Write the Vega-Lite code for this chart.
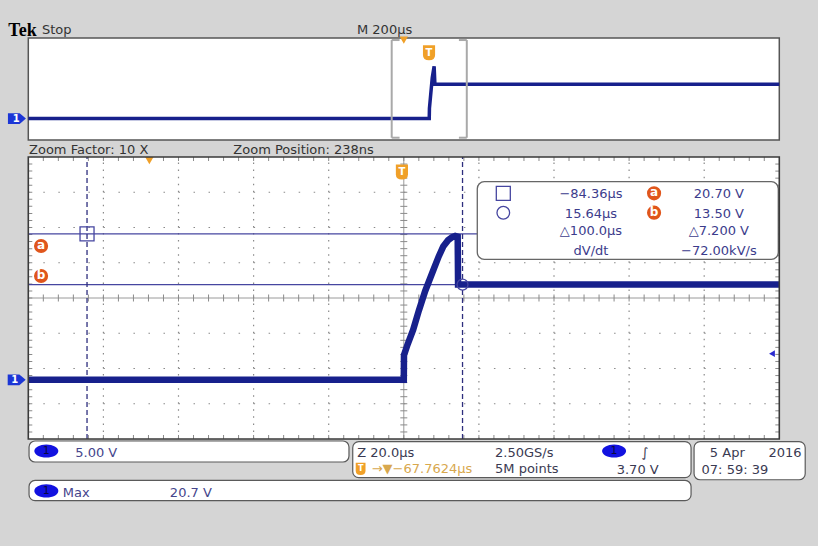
{
"$schema": "https://vega.github.io/schema/vega-lite/v6.json",
"width": 818, "height": 546,
"autosize": {"type": "fit", "contains": "padding"},
"padding": 0,
"background": "#d5d5d5",
"config": {"view": {"stroke": null}, "text": {"font": "DejaVu Sans", "fontSize": 13}},
"datasets": {
 "main": [{"t":-100,"v":0},{"t":0,"v":0},{"t":0.05,"v":3.5},{"t":1,"v":5},{"t":2.5,"v":7.1},{"t":4,"v":9.8},{"t":5.7,"v":12.6},{"t":7.9,"v":15.6},{"t":9.3,"v":17.5},{"t":10.5,"v":18.9},{"t":11.8,"v":19.8},{"t":12.8,"v":20.2},{"t":13.7,"v":20.4},{"t":14.35,"v":20.3},{"t":14.45,"v":13.5},{"t":100,"v":13.5}],
 "ov": [{"t":-1067.76,"v":0},{"t":0,"v":0},{"t":0.5,"v":4},{"t":8,"v":16},{"t":13,"v":20.5},{"t":15,"v":13.5},{"t":932.24,"v":13.5}],
 "tkH": [
  {"t":-96,"v":11.6,"z":7},{"t":-92,"v":11.6,"z":7},{"t":-88,"v":11.6,"z":7},{"t":-84,"v":11.6,"z":7},{"t":-80,"v":11.6,"z":7},{"t":-76,"v":11.6,"z":7},{"t":-72,"v":11.6,"z":7},{"t":-68,"v":11.6,"z":7},{"t":-64,"v":11.6,"z":7},{"t":-60,"v":11.6,"z":7},{"t":-56,"v":11.6,"z":7},{"t":-52,"v":11.6,"z":7},{"t":-48,"v":11.6,"z":7},{"t":-44,"v":11.6,"z":7},{"t":-40,"v":11.6,"z":7},{"t":-36,"v":11.6,"z":7},{"t":-32,"v":11.6,"z":7},{"t":-28,"v":11.6,"z":7},{"t":-24,"v":11.6,"z":7},{"t":-20,"v":11.6,"z":7},{"t":-16,"v":11.6,"z":7},{"t":-12,"v":11.6,"z":7},{"t":-8,"v":11.6,"z":7},{"t":-4,"v":11.6,"z":7},{"t":4,"v":11.6,"z":7},{"t":8,"v":11.6,"z":7},{"t":12,"v":11.6,"z":7},{"t":16,"v":11.6,"z":7},{"t":20,"v":11.6,"z":7},{"t":24,"v":11.6,"z":7},{"t":28,"v":11.6,"z":7},{"t":32,"v":11.6,"z":7},{"t":36,"v":11.6,"z":7},{"t":40,"v":11.6,"z":7},{"t":44,"v":11.6,"z":7},{"t":48,"v":11.6,"z":7},{"t":52,"v":11.6,"z":7},{"t":56,"v":11.6,"z":7},{"t":60,"v":11.6,"z":7},{"t":64,"v":11.6,"z":7},{"t":68,"v":11.6,"z":7},{"t":72,"v":11.6,"z":7},{"t":76,"v":11.6,"z":7},{"t":80,"v":11.6,"z":7},{"t":84,"v":11.6,"z":7},{"t":88,"v":11.6,"z":7},{"t":92,"v":11.6,"z":7},{"t":96,"v":11.6,"z":7},
  {"t":-96,"v":-8.12,"z":4},{"t":-92,"v":-8.12,"z":4},{"t":-88,"v":-8.12,"z":4},{"t":-84,"v":-8.12,"z":4},{"t":-80,"v":-8.12,"z":4},{"t":-76,"v":-8.12,"z":4},{"t":-72,"v":-8.12,"z":4},{"t":-68,"v":-8.12,"z":4},{"t":-64,"v":-8.12,"z":4},{"t":-60,"v":-8.12,"z":4},{"t":-56,"v":-8.12,"z":4},{"t":-52,"v":-8.12,"z":4},{"t":-48,"v":-8.12,"z":4},{"t":-44,"v":-8.12,"z":4},{"t":-40,"v":-8.12,"z":4},{"t":-36,"v":-8.12,"z":4},{"t":-32,"v":-8.12,"z":4},{"t":-28,"v":-8.12,"z":4},{"t":-24,"v":-8.12,"z":4},{"t":-20,"v":-8.12,"z":4},{"t":-16,"v":-8.12,"z":4},{"t":-12,"v":-8.12,"z":4},{"t":-8,"v":-8.12,"z":4},{"t":-4,"v":-8.12,"z":4},{"t":0,"v":-8.12,"z":4},{"t":4,"v":-8.12,"z":4},{"t":8,"v":-8.12,"z":4},{"t":12,"v":-8.12,"z":4},{"t":16,"v":-8.12,"z":4},{"t":20,"v":-8.12,"z":4},{"t":24,"v":-8.12,"z":4},{"t":28,"v":-8.12,"z":4},{"t":32,"v":-8.12,"z":4},{"t":36,"v":-8.12,"z":4},{"t":40,"v":-8.12,"z":4},{"t":44,"v":-8.12,"z":4},{"t":48,"v":-8.12,"z":4},{"t":52,"v":-8.12,"z":4},{"t":56,"v":-8.12,"z":4},{"t":60,"v":-8.12,"z":4},{"t":64,"v":-8.12,"z":4},{"t":68,"v":-8.12,"z":4},{"t":72,"v":-8.12,"z":4},{"t":76,"v":-8.12,"z":4},{"t":80,"v":-8.12,"z":4},{"t":84,"v":-8.12,"z":4},{"t":88,"v":-8.12,"z":4},{"t":92,"v":-8.12,"z":4},{"t":96,"v":-8.12,"z":4},
  {"t":-96,"v":31.32,"z":4},{"t":-92,"v":31.32,"z":4},{"t":-88,"v":31.32,"z":4},{"t":-84,"v":31.32,"z":4},{"t":-80,"v":31.32,"z":4},{"t":-76,"v":31.32,"z":4},{"t":-72,"v":31.32,"z":4},{"t":-68,"v":31.32,"z":4},{"t":-64,"v":31.32,"z":4},{"t":-60,"v":31.32,"z":4},{"t":-56,"v":31.32,"z":4},{"t":-52,"v":31.32,"z":4},{"t":-48,"v":31.32,"z":4},{"t":-44,"v":31.32,"z":4},{"t":-40,"v":31.32,"z":4},{"t":-36,"v":31.32,"z":4},{"t":-32,"v":31.32,"z":4},{"t":-28,"v":31.32,"z":4},{"t":-24,"v":31.32,"z":4},{"t":-20,"v":31.32,"z":4},{"t":-16,"v":31.32,"z":4},{"t":-12,"v":31.32,"z":4},{"t":-8,"v":31.32,"z":4},{"t":-4,"v":31.32,"z":4},{"t":0,"v":31.32,"z":4},{"t":4,"v":31.32,"z":4},{"t":8,"v":31.32,"z":4},{"t":12,"v":31.32,"z":4},{"t":16,"v":31.32,"z":4},{"t":20,"v":31.32,"z":4},{"t":24,"v":31.32,"z":4},{"t":28,"v":31.32,"z":4},{"t":32,"v":31.32,"z":4},{"t":36,"v":31.32,"z":4},{"t":40,"v":31.32,"z":4},{"t":44,"v":31.32,"z":4},{"t":48,"v":31.32,"z":4},{"t":52,"v":31.32,"z":4},{"t":56,"v":31.32,"z":4},{"t":60,"v":31.32,"z":4},{"t":64,"v":31.32,"z":4},{"t":68,"v":31.32,"z":4},{"t":72,"v":31.32,"z":4},{"t":76,"v":31.32,"z":4},{"t":80,"v":31.32,"z":4},{"t":84,"v":31.32,"z":4},{"t":88,"v":31.32,"z":4},{"t":92,"v":31.32,"z":4},{"t":96,"v":31.32,"z":4}
 ],
 "tkV": [
  {"t":0,"v":-7.4,"z":7},{"t":0,"v":-6.4,"z":7},{"t":0,"v":-5.4,"z":7},{"t":0,"v":-4.4,"z":7},{"t":0,"v":-3.4,"z":7},{"t":0,"v":-2.4,"z":7},{"t":0,"v":-1.4,"z":7},{"t":0,"v":-0.4,"z":7},{"t":0,"v":0.6,"z":7},{"t":0,"v":1.6,"z":7},{"t":0,"v":2.6,"z":7},{"t":0,"v":3.6,"z":7},{"t":0,"v":4.6,"z":7},{"t":0,"v":5.6,"z":7},{"t":0,"v":6.6,"z":7},{"t":0,"v":7.6,"z":7},{"t":0,"v":8.6,"z":7},{"t":0,"v":9.6,"z":7},{"t":0,"v":10.6,"z":7},{"t":0,"v":12.6,"z":7},{"t":0,"v":13.6,"z":7},{"t":0,"v":14.6,"z":7},{"t":0,"v":15.6,"z":7},{"t":0,"v":16.6,"z":7},{"t":0,"v":17.6,"z":7},{"t":0,"v":18.6,"z":7},{"t":0,"v":19.6,"z":7},{"t":0,"v":20.6,"z":7},{"t":0,"v":21.6,"z":7},{"t":0,"v":22.6,"z":7},{"t":0,"v":23.6,"z":7},{"t":0,"v":24.6,"z":7},{"t":0,"v":25.6,"z":7},{"t":0,"v":26.6,"z":7},{"t":0,"v":27.6,"z":7},{"t":0,"v":28.6,"z":7},{"t":0,"v":29.6,"z":7},{"t":0,"v":30.6,"z":7},
  {"t":-99.47,"v":-7.4,"z":4},{"t":-99.47,"v":-6.4,"z":4},{"t":-99.47,"v":-5.4,"z":4},{"t":-99.47,"v":-4.4,"z":4},{"t":-99.47,"v":-3.4,"z":4},{"t":-99.47,"v":-2.4,"z":4},{"t":-99.47,"v":-1.4,"z":4},{"t":-99.47,"v":-0.4,"z":4},{"t":-99.47,"v":0.6,"z":4},{"t":-99.47,"v":1.6,"z":4},{"t":-99.47,"v":2.6,"z":4},{"t":-99.47,"v":3.6,"z":4},{"t":-99.47,"v":4.6,"z":4},{"t":-99.47,"v":5.6,"z":4},{"t":-99.47,"v":6.6,"z":4},{"t":-99.47,"v":7.6,"z":4},{"t":-99.47,"v":8.6,"z":4},{"t":-99.47,"v":9.6,"z":4},{"t":-99.47,"v":10.6,"z":4},{"t":-99.47,"v":11.6,"z":4},{"t":-99.47,"v":12.6,"z":4},{"t":-99.47,"v":13.6,"z":4},{"t":-99.47,"v":14.6,"z":4},{"t":-99.47,"v":15.6,"z":4},{"t":-99.47,"v":16.6,"z":4},{"t":-99.47,"v":17.6,"z":4},{"t":-99.47,"v":18.6,"z":4},{"t":-99.47,"v":19.6,"z":4},{"t":-99.47,"v":20.6,"z":4},{"t":-99.47,"v":21.6,"z":4},{"t":-99.47,"v":22.6,"z":4},{"t":-99.47,"v":23.6,"z":4},{"t":-99.47,"v":24.6,"z":4},{"t":-99.47,"v":25.6,"z":4},{"t":-99.47,"v":26.6,"z":4},{"t":-99.47,"v":27.6,"z":4},{"t":-99.47,"v":28.6,"z":4},{"t":-99.47,"v":29.6,"z":4},{"t":-99.47,"v":30.6,"z":4},
  {"t":99.47,"v":-7.4,"z":4},{"t":99.47,"v":-6.4,"z":4},{"t":99.47,"v":-5.4,"z":4},{"t":99.47,"v":-4.4,"z":4},{"t":99.47,"v":-3.4,"z":4},{"t":99.47,"v":-2.4,"z":4},{"t":99.47,"v":-1.4,"z":4},{"t":99.47,"v":-0.4,"z":4},{"t":99.47,"v":0.6,"z":4},{"t":99.47,"v":1.6,"z":4},{"t":99.47,"v":2.6,"z":4},{"t":99.47,"v":3.6,"z":4},{"t":99.47,"v":4.6,"z":4},{"t":99.47,"v":5.6,"z":4},{"t":99.47,"v":6.6,"z":4},{"t":99.47,"v":7.6,"z":4},{"t":99.47,"v":8.6,"z":4},{"t":99.47,"v":9.6,"z":4},{"t":99.47,"v":10.6,"z":4},{"t":99.47,"v":11.6,"z":4},{"t":99.47,"v":12.6,"z":4},{"t":99.47,"v":13.6,"z":4},{"t":99.47,"v":14.6,"z":4},{"t":99.47,"v":15.6,"z":4},{"t":99.47,"v":16.6,"z":4},{"t":99.47,"v":17.6,"z":4},{"t":99.47,"v":18.6,"z":4},{"t":99.47,"v":19.6,"z":4},{"t":99.47,"v":20.6,"z":4},{"t":99.47,"v":21.6,"z":4},{"t":99.47,"v":22.6,"z":4},{"t":99.47,"v":23.6,"z":4},{"t":99.47,"v":24.6,"z":4},{"t":99.47,"v":25.6,"z":4},{"t":99.47,"v":26.6,"z":4},{"t":99.47,"v":27.6,"z":4},{"t":99.47,"v":28.6,"z":4},{"t":99.47,"v":29.6,"z":4},{"t":99.47,"v":30.6,"z":4}
 ]
},
"resolve": {"scale": {"x": "independent", "y": "independent"}},
"layer": [
 {
  "encoding": {
   "x": {"field": "t", "type": "quantitative", "scale": {"domain": [-1143.13, 1035.30], "nice": false, "zero": false}, "axis": null},
   "y": {"field": "v", "type": "quantitative", "scale": {"domain": [-167.6, 46.5], "nice": false, "zero": false}, "axis": null}
  },
  "layer": [
   {"data": {"values": [{"t": -1067.76, "t2": 932.24, "v": -8.4, "v2": 31.6}]},
    "mark": {"type": "rect", "fill": "#ffffff", "stroke": "#555555", "strokeWidth": 1.5},
    "encoding": {"x2": {"field": "t2"}, "y2": {"field": "v2"}}},
   {"data": {"name": "ov"}, "mark": {"type": "line", "color": "#17208c", "strokeWidth": 3.5}},
   {"data": {"values": [{"t":-100,"t2":-100,"v":-7.5,"v2":30.8},{"t":100,"t2":100,"v":-7.5,"v2":30.8},{"t":-100,"t2":-79,"v":30.8,"v2":30.8},{"t":-100,"t2":-79,"v":-7.5,"v2":-7.5},{"t":79,"t2":100,"v":30.8,"v2":30.8},{"t":79,"t2":100,"v":-7.5,"v2":-7.5}]},
    "mark": {"type": "rule", "color": "#a9a9a9", "strokeWidth": 2},
    "encoding": {"x2": {"field": "t2"}, "y2": {"field": "v2"}}},
   {"data": {"values": [{"t": -0.6, "v": 25.8}]},
    "mark": {"type": "point", "shape": "M-0.8,-1L0.8,-1L0.8,0.3Q0.8,1,0,1Q-0.8,1,-0.8,0.3Z", "filled": true, "color": "#f0a028", "opacity": 1, "size": 230}},
   {"data": {"values": [{"t": -0.6, "v": 25.8, "l": "T"}]},
    "mark": {"type": "text", "color": "#ffffff", "fontWeight": "bold", "fontSize": 10, "baseline": "middle", "align": "center"},
    "encoding": {"text": {"field": "l"}}},
   {"data": {"values": [{"t": -67.76, "v": 30.8}]},
    "mark": {"type": "point", "shape": "triangle-down", "filled": true, "color": "#f0a028", "opacity": 1, "size": 70}},
   {"data": {"values": [{"t": -1098, "v": 0}]},
    "mark": {"type": "point", "shape": "M-1,-0.6L0.3,-0.6L1,0L0.3,0.6L-1,0.6Z", "filled": true, "color": "#1c36d6", "opacity": 1, "size": 324}},
   {"data": {"values": [{"t": -1100, "v": 0, "l": "1"}]},
    "mark": {"type": "text", "color": "#ffffff", "fontWeight": "bold", "fontSize": 10, "baseline": "middle", "align": "center"},
    "encoding": {"text": {"field": "l"}}},
   {"data": {"values": [{"t": -1121, "v": 32.51, "l": "Tek"}]},
    "mark": {"type": "text", "font": "Liberation Serif", "fontWeight": "bold", "fontSize": 18, "color": "#000000", "align": "left", "baseline": "alphabetic"},
    "encoding": {"text": {"field": "l"}}},
   {"data": {"values": [{"t": -1031.3, "v": 33.06, "l": "Stop"}, {"t": -192.4, "v": 33.06, "l": "M 200µs"}]},
    "mark": {"type": "text", "fontSize": 13, "color": "#333333", "align": "left", "baseline": "alphabetic"},
    "encoding": {"text": {"field": "l"}}}
  ]
 },
 {
  "encoding": {
   "x": {"field": "t", "type": "quantitative", "scale": {"domain": [-107.537, 110.306], "nice": false, "zero": false}, "axis": null},
   "y": {"field": "v", "type": "quantitative", "scale": {"domain": [-23.577, 53.870], "nice": false, "zero": false}, "axis": null}
  },
  "layer": [
   {"data": {"values": [{"t": -100, "t2": 100, "v": -8.4, "v2": 31.6}]},
    "mark": {"type": "rect", "fill": "#ffffff"},
    "encoding": {"x2": {"field": "t2"}, "y2": {"field": "v2"}}},
   {"data": {"values": [{"t":-80,"t2":-80,"v":-8.4,"v2":31.6},{"t":-60,"t2":-60,"v":-8.4,"v2":31.6},{"t":-40,"t2":-40,"v":-8.4,"v2":31.6},{"t":-20,"t2":-20,"v":-8.4,"v2":31.6},{"t":20,"t2":20,"v":-8.4,"v2":31.6},{"t":40,"t2":40,"v":-8.4,"v2":31.6},{"t":60,"t2":60,"v":-8.4,"v2":31.6},{"t":80,"t2":80,"v":-8.4,"v2":31.6}]},
    "mark": {"type": "rule", "color": "#8a8a8a", "strokeWidth": 1.2, "strokeDash": [1.5, 5.55]},
    "encoding": {"x2": {"field": "t2"}, "y2": {"field": "v2"}}},
   {"data": {"values": [{"t":-100,"t2":100,"v":-3.4,"v2":-3.4},{"t":-100,"t2":100,"v":1.6,"v2":1.6},{"t":-100,"t2":100,"v":6.6,"v2":6.6},{"t":-100,"t2":100,"v":16.6,"v2":16.6},{"t":-100,"t2":100,"v":21.6,"v2":21.6},{"t":-100,"t2":100,"v":26.6,"v2":26.6}]},
    "mark": {"type": "rule", "color": "#8a8a8a", "strokeWidth": 1.2, "strokeDash": [1.5, 13.52]},
    "encoding": {"x2": {"field": "t2"}, "y2": {"field": "v2"}}},
   {"data": {"values": [{"t": 0, "t2": 0, "v": -8.4, "v2": 31.6}, {"t": -100, "t2": 100, "v": 11.6, "v2": 11.6}]},
    "mark": {"type": "rule", "color": "#9a9a9a", "strokeWidth": 1},
    "encoding": {"x2": {"field": "t2"}, "y2": {"field": "v2"}}},
   {"data": {"name": "tkH"},
    "mark": {"type": "tick", "orient": "vertical", "color": "#8a8a8a", "thickness": 1, "opacity": 1},
    "encoding": {"size": {"field": "z", "type": "quantitative", "scale": null}}},
   {"data": {"name": "tkV"},
    "mark": {"type": "tick", "orient": "horizontal", "color": "#8a8a8a", "thickness": 1, "opacity": 1},
    "encoding": {"size": {"field": "z", "type": "quantitative", "scale": null}}},
   {"data": {"values": [{"t": -100, "t2": 100, "v": 20.7, "v2": 20.7}, {"t": -100, "t2": 100, "v": 13.5, "v2": 13.5}]},
    "mark": {"type": "rule", "color": "#4646a0", "strokeWidth": 1.2},
    "encoding": {"x2": {"field": "t2"}, "y2": {"field": "v2"}}},
   {"data": {"values": [{"t": -84.36, "t2": -84.36, "v": -8.4, "v2": 31.6}, {"t": 15.64, "t2": 15.64, "v": -8.4, "v2": 31.6}]},
    "mark": {"type": "rule", "color": "#2e2e7e", "strokeWidth": 1.3, "strokeDash": [5, 3]},
    "encoding": {"x2": {"field": "t2"}, "y2": {"field": "v2"}}},
   {"data": {"name": "main"}, "mark": {"type": "line", "color": "#17208c", "strokeWidth": 6.5}},
   {"data": {"values": [{"t": -84.36, "v": 20.7, "s": "square", "z": 196}, {"t": 15.64, "v": 13.5, "s": "circle", "z": 120}]},
    "mark": {"type": "point", "filled": false, "color": "#4646a0", "strokeWidth": 1.3, "opacity": 1},
    "encoding": {"shape": {"field": "s", "type": "nominal", "scale": null}, "size": {"field": "z", "type": "quantitative", "scale": null}}},
   {"data": {"values": [{"t": 19.57, "t2": 99.73, "v": 17.09, "v2": 28.1}]},
    "mark": {"type": "rect", "fill": "#ffffff", "stroke": "#666666", "strokeWidth": 1.3, "cornerRadius": 7},
    "encoding": {"x2": {"field": "t2"}, "y2": {"field": "v2"}}},
   {"data": {"values": [{"t": 26.5, "v": 26.45, "s": "square", "z": 196}, {"t": 26.5, "v": 23.7, "s": "circle", "z": 160}]},
    "mark": {"type": "point", "filled": false, "color": "#4646a0", "strokeWidth": 1.3, "opacity": 1},
    "encoding": {"shape": {"field": "s", "type": "nominal", "scale": null}, "size": {"field": "z", "type": "quantitative", "scale": null}}},
   {"data": {"values": [{"t":49.85,"v":25.79,"l":"−84.36µs"},{"t":83.9,"v":25.79,"l":"20.70 V"},{"t":49.85,"v":22.99,"l":"15.64µs"},{"t":83.9,"v":22.99,"l":"13.50 V"},{"t":49.85,"v":20.54,"l":"△100.0µs"},{"t":83.9,"v":20.54,"l":"△7.200 V"},{"t":49.85,"v":17.76,"l":"dV/dt"},{"t":83.9,"v":17.76,"l":"−72.00kV/s"}]},
    "mark": {"type": "text", "fontSize": 13, "color": "#3c3c8c", "align": "center", "baseline": "alphabetic"},
    "encoding": {"text": {"field": "l"}}},
   {"data": {"values": [{"t": -96.6, "v": 18.98, "l": "a"}, {"t": -96.6, "v": 14.72, "l": "b"}, {"t": 66.65, "v": 26.45, "l": "a"}, {"t": 66.65, "v": 23.7, "l": "b"}]},
    "mark": {"type": "point", "shape": "circle", "filled": true, "color": "#e0561c", "opacity": 1, "size": 200}},
   {"data": {"values": [{"t": -96.6, "v": 18.98, "l": "a"}, {"t": -96.6, "v": 14.72, "l": "b"}, {"t": 66.65, "v": 26.45, "l": "a"}, {"t": 66.65, "v": 23.7, "l": "b"}]},
    "mark": {"type": "text", "color": "#ffffff", "fontWeight": "bold", "fontSize": 12, "align": "center", "baseline": "middle", "dy": -1},
    "encoding": {"text": {"field": "l"}}},
   {"data": {"values": [{"t": -0.5, "v": 29.47}]},
    "mark": {"type": "point", "shape": "M-0.8,-1L0.8,-1L0.8,0.3Q0.8,1,0,1Q-0.8,1,-0.8,0.3Z", "filled": true, "color": "#f0a028", "opacity": 1, "size": 230}},
   {"data": {"values": [{"t": -0.5, "v": 29.47, "l": "T"}]},
    "mark": {"type": "text", "color": "#ffffff", "fontWeight": "bold", "fontSize": 10, "baseline": "middle", "align": "center"},
    "encoding": {"text": {"field": "l"}}},
   {"data": {"values": [{"t": -67.76, "v": 31.1}]},
    "mark": {"type": "point", "shape": "triangle-down", "filled": true, "color": "#f0a028", "opacity": 1, "size": 70}},
   {"data": {"values": [{"t": -103.1, "v": 0}]},
    "mark": {"type": "point", "shape": "M-1,-0.6L0.3,-0.6L1,0L0.3,0.6L-1,0.6Z", "filled": true, "color": "#1c36d6", "opacity": 1, "size": 324}},
   {"data": {"values": [{"t": -103.6, "v": 0, "l": "1"}]},
    "mark": {"type": "text", "color": "#ffffff", "fontWeight": "bold", "fontSize": 10, "baseline": "middle", "align": "center"},
    "encoding": {"text": {"field": "l"}}},
   {"data": {"values": [{"t": 98.05, "v": 3.7}]},
    "mark": {"type": "point", "shape": "triangle-left", "filled": true, "color": "#2a2ad0", "opacity": 1, "size": 45}},
   {"data": {"values": [{"t": -100, "t2": 100, "v": -8.4, "v2": 31.6}]},
    "mark": {"type": "rect", "fillOpacity": 0, "fill": "#ffffff", "stroke": "#3a3a3a", "strokeWidth": 1.6},
    "encoding": {"x2": {"field": "t2"}, "y2": {"field": "v2"}}},
   {"data": {"values": [{"t": -99.8, "v": 32.03, "l": "Zoom Factor: 10 X"}, {"t": -45.4, "v": 32.03, "l": "Zoom Position: 238ns"}]},
    "mark": {"type": "text", "fontSize": 13, "color": "#333333", "align": "left", "baseline": "alphabetic"},
    "encoding": {"text": {"field": "l"}}},
   {"data": {"values": [{"t": -99.8, "t2": -14.6, "v": -8.68, "v2": -11.66}, {"t": -13.6, "t2": 76.5, "v": -8.78, "v2": -13.88}, {"t": 77.3, "t2": 106.9, "v": -8.78, "v2": -14.18}, {"t": -99.8, "t2": 76.5, "v": -14.28, "v2": -17.15}]},
    "mark": {"type": "rect", "fill": "#ffffff", "stroke": "#5a5a5a", "strokeWidth": 1.2, "cornerRadius": 6},
    "encoding": {"x2": {"field": "t2"}, "y2": {"field": "v2"}}},
   {"data": {"values": [{"t": -95.2, "v": -10.1}, {"t": -95.2, "v": -15.77}, {"t": 56.0, "v": -10.1}]},
    "mark": {"type": "point", "shape": "M-1,0A1,0.55,0,1,1,1,0A1,0.55,0,1,1,-1,0Z", "filled": true, "color": "#1212e0", "opacity": 1, "size": 576}},
   {"data": {"values": [{"t": -95.2, "v": -10.1, "l": "1"}, {"t": -95.2, "v": -15.77, "l": "1"}, {"t": 56.0, "v": -10.1, "l": "1"}]},
    "mark": {"type": "text", "color": "#0a0a40", "fontSize": 11, "baseline": "middle", "align": "center"},
    "encoding": {"text": {"field": "l"}}},
   {"data": {"values": [{"t": -11.5, "v": -12.65}]},
    "mark": {"type": "point", "shape": "M-0.8,-1L0.8,-1L0.8,0.3Q0.8,1,0,1Q-0.8,1,-0.8,0.3Z", "filled": true, "color": "#f0a028", "opacity": 1, "size": 150}},
   {"data": {"values": [{"t": -11.5, "v": -12.65, "l": "T"}]},
    "mark": {"type": "text", "color": "#ffffff", "fontWeight": "bold", "fontSize": 8, "baseline": "middle", "align": "center"},
    "encoding": {"text": {"field": "l"}}},
   {"data": {"values": [
     {"t": -87.5, "v": -10.95, "l": "5.00 V", "c": "#45458c"},
     {"t": -90.8, "v": -16.58, "l": "Max", "c": "#45458c"},
     {"t": -62.3, "v": -16.58, "l": "20.7 V", "c": "#45458c"},
     {"t": -12.4, "v": -10.95, "l": "Z 20.0µs", "c": "#3a3a52"},
     {"t": -8.55, "v": -13.25, "l": "→▼−67.7624µs", "c": "#d8a84e"},
     {"t": 24.3, "v": -10.95, "l": "2.50GS/s", "c": "#3a3a52"},
     {"t": 24.3, "v": -13.25, "l": "5M points", "c": "#3a3a52"},
     {"t": 63.3, "v": -10.95, "l": "∫", "c": "#3a3a52"},
     {"t": 56.7, "v": -13.3, "l": "3.70 V", "c": "#3a3a52"},
     {"t": 81.5, "v": -11.0, "l": "5 Apr", "c": "#3a3a52"},
     {"t": 97.1, "v": -11.0, "l": "2016", "c": "#3a3a52"},
     {"t": 79.3, "v": -13.4, "l": "07: 59: 39", "c": "#3a3a52"}
    ]},
    "mark": {"type": "text", "fontSize": 13, "align": "left", "baseline": "alphabetic"},
    "encoding": {"text": {"field": "l"}, "color": {"field": "c", "type": "nominal", "scale": null}}}
  ]
 }
]
}
